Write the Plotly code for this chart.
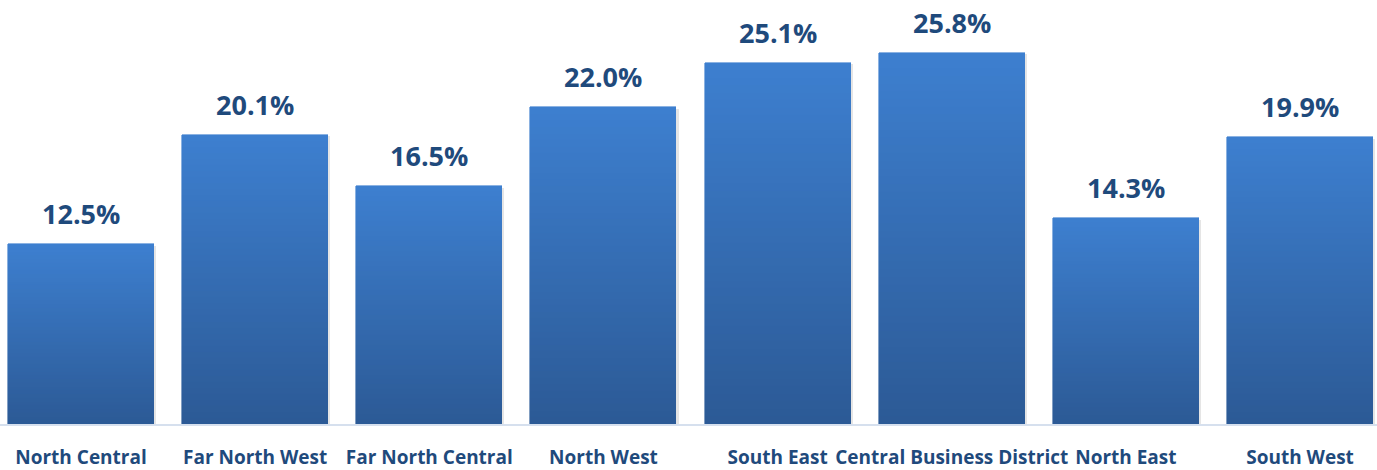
import plotly.graph_objects as go

categories = ["North Central", "Far North West", "Far North Central", "North West",
              "South East", "Central Business District", "North East", "South West"]
values = [12.5, 20.1, 16.5, 22.0, 25.1, 25.8, 14.3, 19.9]
value_labels = ["12.5%", "20.1%", "16.5%", "22.0%", "25.1%", "25.8%", "14.3%", "19.9%"]

TOP = (61, 127, 207)
BOTTOM = (44, 90, 150)
N = 48
BAR_W = 0.838
TEXT_COLOR = "#1F4A7C"

fig = go.Figure()

# soft shadow behind bars
fig.add_trace(go.Bar(
    x=categories, y=values, width=BAR_W, offset=-BAR_W / 2 + 0.012, base=-0.12,
    marker=dict(color="rgba(0,0,0,0.10)", line=dict(width=0)),
    hoverinfo="skip", showlegend=False,
))

# gradient: stack N slices per bar, colour interpolated bottom -> top
for k in range(N):
    t = k / (N - 1)
    r = round(BOTTOM[0] + (TOP[0] - BOTTOM[0]) * t)
    g = round(BOTTOM[1] + (TOP[1] - BOTTOM[1]) * t)
    b = round(BOTTOM[2] + (TOP[2] - BOTTOM[2]) * t)
    fig.add_trace(go.Bar(
        x=categories, y=[v / N for v in values], width=BAR_W,
        marker=dict(color=f"rgb({r},{g},{b})", line=dict(width=0.6, color=f"rgb({r},{g},{b})")),
        hoverinfo="skip", showlegend=False,
    ))

annotations = []
for c, v, lab in zip(categories, values, value_labels):
    annotations.append(dict(
        x=c, y=v, text=f"<b>{lab}</b>", showarrow=False, yanchor="bottom", yshift=10,
        font=dict(family="Open Sans", size=27, color=TEXT_COLOR),
    ))

fig.update_layout(
    barmode="stack",
    bargap=0,
    width=1377, height=470,
    margin=dict(l=0, r=0, t=0, b=46),
    paper_bgcolor="white", plot_bgcolor="white",
    annotations=annotations,
    xaxis=dict(
        range=[-0.4651, 7.442], showgrid=False, zeroline=False,
        showline=True, linecolor="#D6E0EE", linewidth=1.5,
        tickfont=dict(family="Open Sans", size=19, color=TEXT_COLOR),
        ticks="outside", ticklen=15, tickcolor="rgba(0,0,0,0)",
        tickvals=categories, ticktext=[f"<b>{c}</b>" for c in categories],
    ),
    yaxis=dict(range=[0, 29.45], visible=False),
)

fig.write_html("out.html")
